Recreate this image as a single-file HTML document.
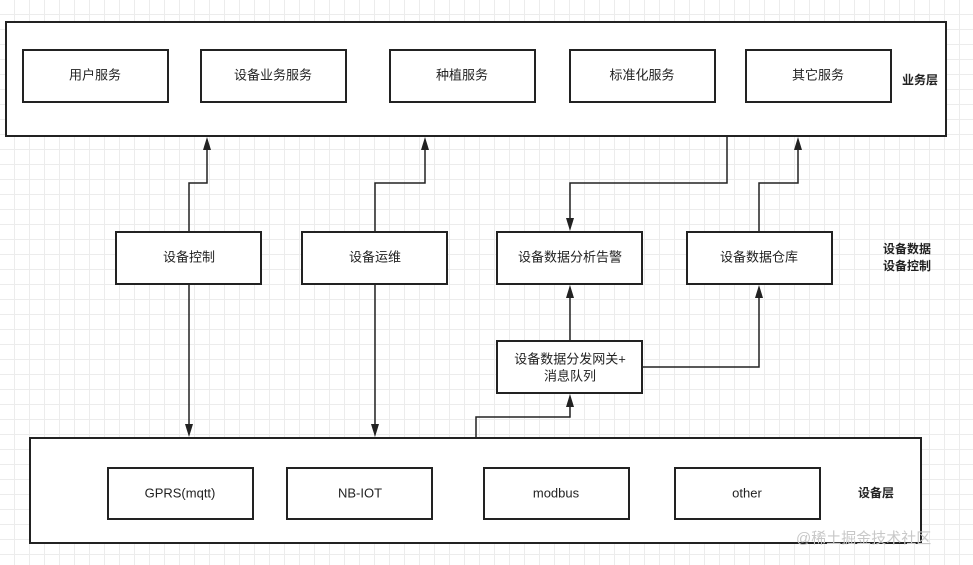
<!DOCTYPE html><html><head><meta charset="utf-8"><style>
body{margin:0;width:973px;height:565px;overflow:hidden;background:#fff;
background-image:linear-gradient(#ececec 1px,transparent 1px),linear-gradient(90deg,#ececec 1px,transparent 1px);background-size:15px 15px;background-position:-1px -1px;
font-family:"Liberation Sans","Noto Sans CJK SC",sans-serif;}
</style></head><body>
<svg width="973" height="565" xmlns="http://www.w3.org/2000/svg" style="position:absolute;left:0;top:0">
<g fill="#fff" stroke="#222" stroke-width="2">
<rect x="6" y="22" width="940" height="114"/>
<rect x="23" y="50" width="145" height="52"/><rect x="201" y="50" width="145" height="52"/><rect x="390" y="50" width="145" height="52"/><rect x="570" y="50" width="145" height="52"/><rect x="746" y="50" width="145" height="52"/>
<rect x="116" y="232" width="145" height="52"/><rect x="302" y="232" width="145" height="52"/><rect x="497" y="232" width="145" height="52"/><rect x="687" y="232" width="145" height="52"/>
<rect x="497" y="341" width="145" height="52"/>
<rect x="30" y="438" width="891" height="105"/>
<rect x="108" y="468" width="145" height="51"/><rect x="287" y="468" width="145" height="51"/><rect x="484" y="468" width="145" height="51"/><rect x="675" y="468" width="145" height="51"/>
</g>
<g fill="none" stroke="#222" stroke-width="1.5">
<polyline points="189,232 189,183 207,183 207,145"/>
<polyline points="189,284 189,428"/>
<polyline points="375,232 375,183 425,183 425,145"/>
<polyline points="375,284 375,428"/>
<polyline points="727,136 727,183 570,183 570,222"/>
<polyline points="759,232 759,183 798,183 798,145"/>
<polyline points="570,341 570,293"/>
<polyline points="642,367 759,367 759,293"/>
<polyline points="476,438 476,417 570,417 570,402"/>
</g>
<g fill="#222">
<polygon points="203,150 207,137 211,150"/>
<polygon points="421,150 425,137 429,150"/>
<polygon points="794,150 798,137 802,150"/>
<polygon points="566,298 570,285 574,298"/>
<polygon points="755,298 759,285 763,298"/>
<polygon points="566,407 570,394 574,407"/>
<polygon points="185,424 189,437 193,424"/>
<polygon points="371,424 375,437 379,424"/>
<polygon points="566,218 570,231 574,218"/>
</g>
<g font-size="13" fill="#222" text-anchor="middle" dominant-baseline="middle">
<text x="95" y="76">用户服务</text><text x="273" y="76">设备业务服务</text><text x="462" y="76">种植服务</text><text x="642" y="76">标准化服务</text><text x="818" y="76">其它服务</text>
<text x="189" y="258">设备控制</text><text x="375" y="258">设备运维</text><text x="570" y="258">设备数据分析告警</text><text x="759" y="258">设备数据仓库</text>
<text x="570" y="360">设备数据分发网关+</text><text x="570" y="377">消息队列</text>
<text x="180" y="494">GPRS(mqtt)</text><text x="360" y="494">NB-IOT</text><text x="556" y="494">modbus</text><text x="747" y="494">other</text>
<g font-weight="bold" font-size="12"><text x="920" y="81">业务层</text><text x="907" y="250">设备数据</text><text x="907" y="267">设备控制</text><text x="876" y="494">设备层</text></g>
</g>
<text x="796" y="543" font-size="15" fill="#c8c8c8">@稀土掘金技术社区</text>
</svg>
</body></html>
